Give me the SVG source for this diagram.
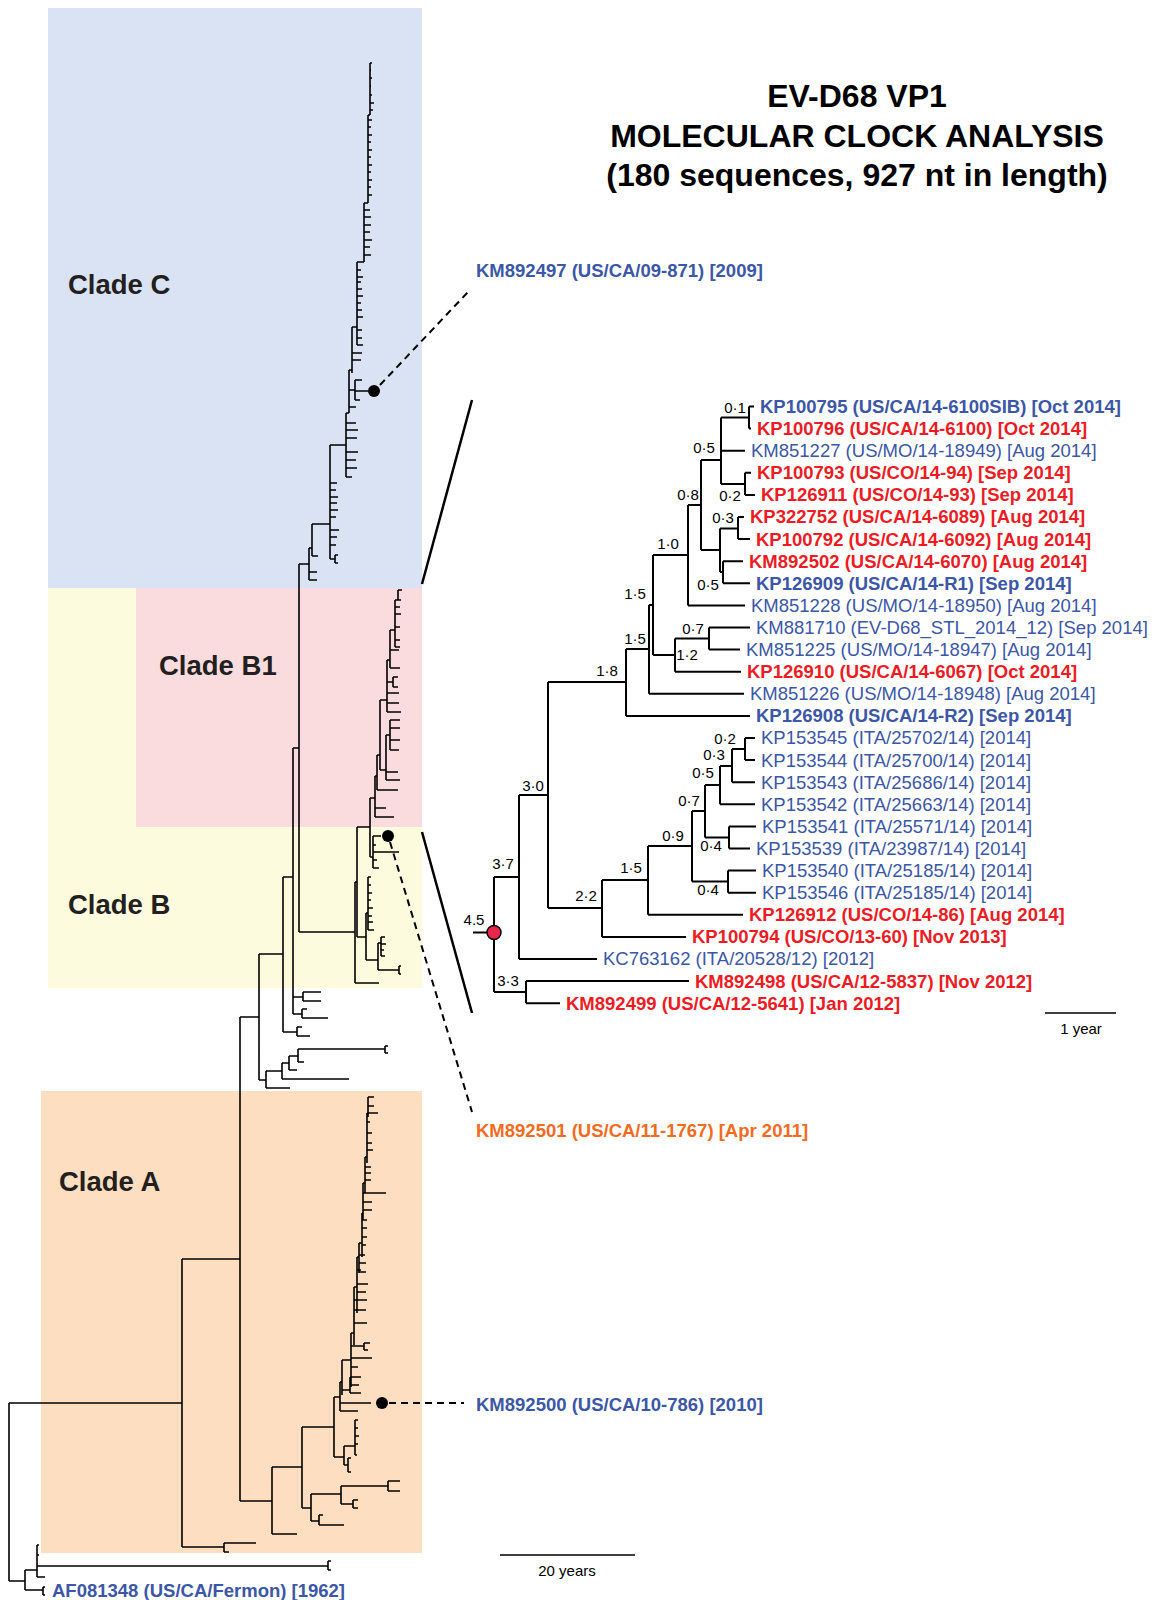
<svg xmlns="http://www.w3.org/2000/svg" width="1155" height="1600" viewBox="0 0 1155 1600">
<style>
.br{stroke:#000;stroke-width:1.6;fill:none}
.rb{stroke:#000;stroke-width:2;fill:none}
.dash{stroke:#000;stroke-width:2;fill:none;stroke-dasharray:7 5}
.zl{stroke:#000;stroke-width:2.5;fill:none}
text{font-family:"Liberation Sans",Arial,sans-serif}
.lb{font-size:18.5px}
.b{font-weight:bold}
.blue{fill:#3b57a6}
.red{fill:#ed1c24}
.org{fill:#f26b22}
.nl{font-size:15px;fill:#000;text-anchor:middle}
.clade{font-size:27.5px;font-weight:bold;fill:#231f20}
.title{font-size:32px;font-weight:bold;fill:#000;text-anchor:middle}
</style>
<rect width="1155" height="1600" fill="#fff"/>
<g id="clade-backgrounds">
<rect id="bgC" x="48" y="8" width="374" height="580" fill="#dae3f3"/>
<rect id="bgB" x="48" y="588" width="374" height="400" fill="#fcfbde"/>
<rect id="bgB1" x="136" y="588" width="286" height="239" fill="#fadcde"/>
<rect id="bgA" x="41" y="1091" width="381" height="462" fill="#fddec0"/>
</g>
<g id="clade-labels">
<text class="clade" x="68" y="294">Clade C</text>
<text class="clade" x="159" y="675">Clade B1</text>
<text class="clade" x="68" y="914">Clade B</text>
<text class="clade" x="59" y="1191">Clade A</text>
</g>
<g id="title">
<text class="title" x="857" y="107">EV-D68 VP1</text>
<text class="title" x="857" y="147">MOLECULAR CLOCK ANALYSIS</text>
<text class="title" x="857" y="186">(180 sequences, 927 nt in length)</text>
</g>
<g id="connectors">
<path class="br" d="M9 1403V1581M9 1403H182M9 1581H25
M25 1570V1590M25 1590H43M43 1587V1595M43 1587H45M43 1595H45
M25 1570H37M37 1545V1577M37 1545H39M37 1555H39M37 1566H328M328 1561V1570M328 1561H331M328 1570H331M37 1577H45
M182 1259V1547M182 1259H240M182 1547H224M224 1543V1552M224 1543H256M224 1552H229
M240 1017V1501M240 1017H259M240 1501H272
M272 1467V1534M272 1534H297M272 1467H302
M302 1427V1508M302 1427H334M302 1508H311
M311 1494V1521M311 1494H341M311 1521H319
M341 1486V1504M341 1486H388M388 1481V1491M388 1481H400M388 1491H400M341 1504H353M353 1500V1508M353 1500H358M353 1508H358
M319 1515V1525M319 1515H323M319 1525H344
M334 1397V1457M334 1457H344M334 1397H340
M344 1446V1465M344 1465H348M348 1458V1472M348 1458H351M348 1472H351M344 1446H355M355 1420V1455M355 1420H358M355 1428H358M355 1436H359M355 1444H358M355 1455H357
M340 1382V1411M340 1411H358M340 1403H371M340 1382H342
M342 1360V1395M342 1390H350M350 1377V1393M350 1377H361M350 1385H359M350 1393H361M342 1360H351
M351 1333V1387M351 1367H358M351 1358H372M351 1346H364M364 1343V1350M364 1343H370M364 1350H368M351 1333H354
M354 1287V1345M354 1323H367M354 1310H366M354 1300H360M354 1287H357
M357 1257V1313M357 1300H367M357 1292H366M357 1284H368M357 1270H361M357 1257H359
M359 1243V1273M359 1272H366M359 1263H366M359 1255H365M359 1243H362
M362 1213V1257M362 1245H366M362 1237H367M362 1228H367M362 1220H367M362 1213H363
M363 1183V1220M363 1210H372M363 1202H372M363 1193H386M363 1183H365
M365 1157V1193M365 1180H371M365 1173H371M365 1167H371M365 1157H367
M367 1113V1163M367 1150H373M367 1143H372M367 1133H372M367 1122H370M367 1113H378
M368 1097V1117M368 1097H374M368 1106H374
M259 954V1080M259 954H283M259 1080H266
M266 1071V1088M266 1088H290M266 1071H282
M282 1063V1079M282 1079H349M282 1063H289
M289 1056V1070M289 1070H297M289 1056H298
M298 1049V1062M298 1049H385M385 1046V1053M385 1046H388M385 1053H388M298 1062H304
M283 877V1032M283 1032H297M297 1027V1036M297 1027H302M297 1036H310M283 877H293
M293 748V1014M293 997H303M303 992V1001M303 992H321M303 1001H321M293 1014H302M302 1009V1018M302 1009H307M302 1018H328M293 748H299
M299 564V932M299 932H355M299 564H309
M355 882V983M355 983H379M355 882H357
M357 827V937M357 827H370M357 937H366
M366 913V960M366 913H368M366 960H378
M368 877V930M368 877H371M368 885H371M368 893H372M368 900H371M368 908H373M368 916H372M368 922H373M368 930H374
M378 943V970M378 970H399M399 966V974M399 966H401M399 974H401M378 943H381M381 937V956M381 937H385M381 944H386M381 950H384M381 956H385
M370 798V857M370 798H375M370 857H373
M373 836V868M373 836H381M373 845H376M373 852H399M373 860H377M373 868H379
M375 776V817M375 817H394M375 808H386M375 776H377
M377 755V790M377 790H398M377 755H380
M380 700V770M380 770H386M380 700H387
M386 735V780M386 780H400M386 772H398M386 735H390
M390 720V750M390 720H400M390 728H400M390 740H400M390 750H399
M387 660V712M387 712H401M387 703H399M387 693H399M387 682H393M393 677V687M393 677H398M393 687H398M387 660H390
M390 630V668M390 668H400M390 650H399M390 630H395
M395 600V647M395 647H400M395 640H400M395 627H400M395 614H401M395 607H400M395 600H398
M398 590V600M398 590H402M398 600H401
M309 548V580M309 572H317M309 580H317M309 548H312
M312 524V556M312 556H318M312 524H330
M330 445V559M330 559H335M335 555V563M335 555H338M335 563H338M330 545H336M330 537H337M330 530H339M330 517H336M330 510H338M330 503H337M330 497H338M330 490H336M330 483H337M330 445H346
M346 413V477M346 477H352M346 468H357M346 460H356M346 452H358M346 438H357M346 430H358M346 423H356M346 413H349
M349 370V413M349 407H356M349 390H355M355 380V400M355 380H362M355 391H368M355 400H360M349 370H352
M352 327V373M352 360H361M352 353H362M352 327H357
M357 262V345M357 345H363M357 338H362M357 330H362M357 317H363M357 310H362M357 303H361M357 296H363M357 289H362M357 282H361M357 277H363M357 270H361M357 262H364
M364 203V262M364 255H371M364 247H370M364 240H372M364 232H370M364 225H371M364 217H371M364 210H370M364 203H368
M368 115V203M368 195H372M368 187H371M368 180H372M368 172H371M368 165H372M368 157H371M368 150H372M368 142H371M368 135H372M368 127H371M368 120H372M368 115H370
M370 63V115M370 63H372M370 70H371M370 78H372M370 86H371M370 95H372M370 103H374M370 110H373"/>
<path class="rb" d="M473 932.5H488
M494 877V992M494 877H519M494 992H526
M519 795V959M519 959H597
M526 981.1V1003.2M526 981.1H689M526 1003.2H560
M519 795H548M548 682V908
M548 682H626M626 649V715.9M626 715.9H750
M548 908H602M602 880V936.9M602 936.9H686
M602 880H648M648 846V914.8M648 914.8H743
M648 846H692M692 811V881.6
M692 881.6H728M728 870.6V892.7M728 870.6H756M728 892.7H756
M692 811H705M705 785V837.5
M705 837.5H729M729 826.4V848.5M729 826.4H756M729 848.5H750
M705 785H720M720 766V804.3M720 804.3H755
M720 766H732M732 749V782.2M732 782.2H755
M732 749H745M745 738V760.1M745 738H755M745 760.1H755
M626 649H649M649 605V693.8M649 693.8H744
M649 605H653M653 555V655
M653 555H688M688 505V605.4M688 605.4H745
M653 655H675M675 638.5V671.7M675 671.7H741
M675 638.5H709M709 627.5V649.6M709 627.5H750M709 649.6H740
M688 505H701M701 460V550
M701 460H721M721 417.5V483.9M721 450.7H745
M721 417.5H749M749 406.5V428.6M749 406.5H754M749 428.6H751
M721 483.9H745M745 472.8V494.9M745 472.8H751M745 494.9H755
M701 550H720M720 528.5V572
M720 528.5H738M738 517V539.1M738 517H744M738 539.1H750
M720 572H723M723 561.2V583.3M723 561.2H743M723 583.3H750"/>
<path class="zl" d="M472 400L422 584M422 832L472 1013"/>
<path class="dash" d="M380 385L468 292M390 842L472 1112M389 1403H464"/>
<path class="br" d="M500 1555H635M1045 1013H1116"/>
</g>
<g id="dots">
<circle cx="374" cy="391" r="6" fill="#000"/>
<circle cx="388" cy="836" r="6" fill="#000"/>
<circle cx="382" cy="1403" r="6" fill="#000"/>
<circle id="root-node" cx="494" cy="932.5" r="7" fill="#e8254a" stroke="#000" stroke-width="1.5"/>
</g>
<g id="branch-labels">
<text class="nl" x="474" y="925">4.5</text>
<text class="nl" x="503" y="869">3·7</text>
<text class="nl" x="508" y="986">3·3</text>
<text class="nl" x="533" y="791">3·0</text>
<text class="nl" x="607" y="676">1·8</text>
<text class="nl" x="635" y="644">1·5</text>
<text class="nl" x="635" y="599">1·5</text>
<text class="nl" x="668" y="549">1·0</text>
<text class="nl" x="688" y="500">0·8</text>
<text class="nl" x="704" y="453">0·5</text>
<text class="nl" x="735" y="413">0·1</text>
<text class="nl" x="730" y="501">0·2</text>
<text class="nl" x="723" y="523">0·3</text>
<text class="nl" x="708" y="590">0·5</text>
<text class="nl" x="693" y="634">0·7</text>
<text class="nl" x="687" y="660">1·2</text>
<text class="nl" x="725" y="744">0·2</text>
<text class="nl" x="714" y="760">0·3</text>
<text class="nl" x="703" y="778">0·5</text>
<text class="nl" x="689" y="806">0·7</text>
<text class="nl" x="673" y="841">0·9</text>
<text class="nl" x="711" y="851">0·4</text>
<text class="nl" x="708" y="895">0·4</text>
<text class="nl" x="631" y="873">1·5</text>
<text class="nl" x="586" y="901">2·2</text>
</g>
<g id="scale-labels">
<text class="nl" x="1081" y="1034">1 year</text>
<text class="nl" x="567" y="1576">20 years</text>
</g>
<g id="KM892497"><text class="lb b blue" x="476" y="277">KM892497 (US/CA/09-871) [2009]</text></g>
<g id="KM892501"><text class="lb b org" x="476" y="1137">KM892501 (US/CA/11-1767) [Apr 2011]</text></g>
<g id="KM892500"><text class="lb b blue" x="476" y="1411">KM892500 (US/CA/10-786) [2010]</text></g>
<g id="AF081348"><text class="lb b blue" x="52" y="1597">AF081348 (US/CA/Fermon) [1962]</text></g>
<g id="KP100795"><text class="lb b blue" x="760" y="413">KP100795 (US/CA/14-6100SIB) [Oct 2014]</text></g>
<g id="KP100796"><text class="lb b red" x="757" y="435">KP100796 (US/CA/14-6100) [Oct 2014]</text></g>
<g id="KM851227"><text class="lb blue" x="751" y="457">KM851227 (US/MO/14-18949) [Aug 2014]</text></g>
<g id="KP100793"><text class="lb b red" x="757" y="479">KP100793 (US/CO/14-94) [Sep 2014]</text></g>
<g id="KP126911"><text class="lb b red" x="761" y="501">KP126911 (US/CO/14-93) [Sep 2014]</text></g>
<g id="KP322752"><text class="lb b red" x="750" y="523">KP322752 (US/CA/14-6089) [Aug 2014]</text></g>
<g id="KP100792"><text class="lb b red" x="756" y="546">KP100792 (US/CA/14-6092) [Aug 2014]</text></g>
<g id="KM892502"><text class="lb b red" x="749" y="568">KM892502 (US/CA/14-6070) [Aug 2014]</text></g>
<g id="KP126909"><text class="lb b blue" x="756" y="590">KP126909 (US/CA/14-R1) [Sep 2014]</text></g>
<g id="KM851228"><text class="lb blue" x="751" y="612">KM851228 (US/MO/14-18950) [Aug 2014]</text></g>
<g id="KM881710"><text class="lb blue" x="756" y="634">KM881710 (EV-D68_STL_2014_12) [Sep 2014]</text></g>
<g id="KM851225"><text class="lb blue" x="746" y="656">KM851225 (US/MO/14-18947) [Aug 2014]</text></g>
<g id="KP126910"><text class="lb b red" x="747" y="678">KP126910 (US/CA/14-6067) [Oct 2014]</text></g>
<g id="KM851226"><text class="lb blue" x="750" y="700">KM851226 (US/MO/14-18948) [Aug 2014]</text></g>
<g id="KP126908"><text class="lb b blue" x="756" y="722">KP126908 (US/CA/14-R2) [Sep 2014]</text></g>
<g id="KP153545"><text class="lb blue" x="761" y="744">KP153545 (ITA/25702/14) [2014]</text></g>
<g id="KP153544"><text class="lb blue" x="761" y="767">KP153544 (ITA/25700/14) [2014]</text></g>
<g id="KP153543"><text class="lb blue" x="761" y="789">KP153543 (ITA/25686/14) [2014]</text></g>
<g id="KP153542"><text class="lb blue" x="761" y="811">KP153542 (ITA/25663/14) [2014]</text></g>
<g id="KP153541"><text class="lb blue" x="762" y="833">KP153541 (ITA/25571/14) [2014]</text></g>
<g id="KP153539"><text class="lb blue" x="756" y="855">KP153539 (ITA/23987/14) [2014]</text></g>
<g id="KP153540"><text class="lb blue" x="762" y="877">KP153540 (ITA/25185/14) [2014]</text></g>
<g id="KP153546"><text class="lb blue" x="762" y="899">KP153546 (ITA/25185/14) [2014]</text></g>
<g id="KP126912"><text class="lb b red" x="749" y="921">KP126912 (US/CO/14-86) [Aug 2014]</text></g>
<g id="KP100794"><text class="lb b red" x="692" y="943">KP100794 (US/CO/13-60) [Nov 2013]</text></g>
<g id="KC763162"><text class="lb blue" x="603" y="965">KC763162 (ITA/20528/12) [2012]</text></g>
<g id="KM892498"><text class="lb b red" x="695" y="988">KM892498 (US/CA/12-5837) [Nov 2012]</text></g>
<g id="KM892499"><text class="lb b red" x="566" y="1010">KM892499 (US/CA/12-5641) [Jan 2012]</text></g>
</svg>
